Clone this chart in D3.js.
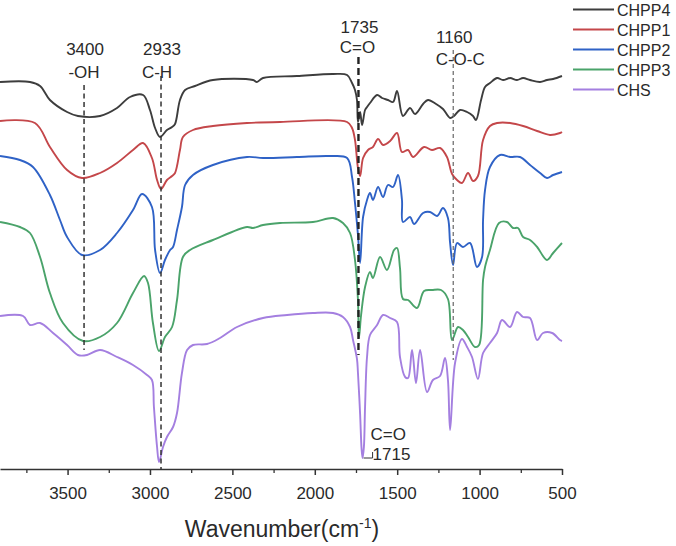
<!DOCTYPE html>
<html>
<head>
<meta charset="utf-8">
<script src="https://cdn.jsdelivr.net/npm/d3@7"></script>
<style>
  body { margin: 0; background: #fff; }
  text { font-family: "Liberation Sans", Arial, sans-serif; }
</style>
</head>
<body>
<div id="chart"></div>
<script>
// FTIR spectra, [wavenumber (cm-1), transmittance (a.u., curves stacked)]
var chpp4 = [[3910,387],[3728,387],[3667,383],[3607,369],[3503,357],[3437,353],[3303,353],[3200,361],[3121,372],[3042,374],[3000,359],[2969,341],[2939,332],[2897,339],[2866,342],[2848,345],[2818,369],[2787,379],[2727,383],[2618,389],[2375,389],[2351,387],[2314,391],[2108,393],[1889,395],[1804,394],[1774,386],[1756,379],[1744,369],[1738,347],[1725,357],[1713,344],[1695,359],[1683,362],[1665,366],[1622,374],[1592,371],[1556,369],[1525,367],[1501,378],[1465,353],[1422,361],[1392,355],[1343,365],[1313,369],[1264,365],[1222,360],[1179,351],[1155,353],[1119,359],[1076,357],[1040,353],[1022,349],[991,369],[967,382],[937,386],[894,391],[858,389],[815,391],[773,389],[736,391],[694,389],[633,387],[591,389],[554,390],[500,393]];
var chpp1 = [[3910,348],[3698,346],[3607,322],[3503,299],[3412,291],[3303,296],[3200,306],[3103,319],[3042,326],[2988,311],[2957,289],[2933,280],[2897,289],[2866,293],[2848,296],[2818,319],[2800,332],[2739,339],[2618,343],[2411,346],[2211,347],[1804,347],[1774,341],[1756,329],[1738,301],[1725,293],[1707,311],[1677,319],[1647,322],[1616,330],[1586,324],[1543,328],[1501,336],[1471,317],[1434,319],[1404,312],[1337,322],[1289,319],[1240,321],[1198,312],[1167,295],[1137,289],[1107,286],[1070,296],[1040,288],[1010,293],[979,329],[937,343],[894,346],[815,346],[736,343],[651,338],[573,334],[512,336],[500,337]];
var chpp2 = [[3910,313],[3789,309],[3710,302],[3607,274],[3546,249],[3503,232],[3412,214],[3303,219],[3200,236],[3103,259],[3048,275],[2988,262],[2969,219],[2939,196],[2909,209],[2878,219],[2860,222],[2836,239],[2806,262],[2787,284],[2739,294],[2618,304],[2411,312],[2314,311],[2108,312],[1908,313],[1804,311],[1774,292],[1756,266],[1738,234],[1725,206],[1707,252],[1683,269],[1665,276],[1647,269],[1616,282],[1586,272],[1556,284],[1525,282],[1495,294],[1471,269],[1465,247],[1422,252],[1398,245],[1343,256],[1301,257],[1258,253],[1222,261],[1192,251],[1179,226],[1161,204],[1137,226],[1101,222],[1058,226],[1016,202],[985,212],[979,249],[967,279],[937,302],[876,314],[815,312],[755,312],[694,304],[633,296],[591,291],[554,294],[500,297]];
var chpp3 = [[3910,247],[3789,242],[3728,236],[3667,212],[3607,176],[3528,146],[3406,128],[3303,132],[3200,146],[3103,176],[3036,193],[3012,186],[2982,146],[2945,118],[2909,132],[2866,142],[2836,169],[2800,212],[2757,219],[2618,229],[2411,242],[2375,241],[2314,244],[2211,246],[2011,247],[1889,251],[1829,246],[1786,236],[1756,209],[1738,169],[1732,131],[1719,154],[1695,182],[1665,197],[1647,191],[1604,212],[1562,199],[1519,219],[1501,221],[1483,201],[1465,170],[1434,169],[1380,161],[1337,178],[1289,179],[1234,179],[1192,170],[1167,129],[1131,142],[1101,139],[1070,132],[1028,122],[1003,124],[979,189],[967,202],[937,219],[882,246],[834,247],[797,241],[767,241],[736,232],[694,229],[651,222],[591,209],[554,216],[500,226]];
var chs = [[3910,153],[3770,153],[3728,144],[3667,146],[3588,136],[3503,124],[3437,114],[3382,114],[3303,119],[3200,112],[3103,104],[3018,94],[2988,89],[2976,62],[2957,22],[2945,7],[2921,22],[2897,32],[2860,42],[2836,56],[2806,96],[2775,119],[2739,124],[2654,125],[2575,131],[2472,142],[2314,151],[2168,154],[2011,156],[1889,156],[1829,152],[1786,142],[1768,129],[1744,110],[1738,96],[1725,55],[1716,20],[1710,11],[1702,22],[1695,62],[1683,112],[1665,134],[1622,144],[1586,154],[1543,151],[1501,147],[1483,112],[1452,92],[1434,91],[1410,119],[1386,86],[1361,119],[1319,77],[1283,89],[1240,93],[1210,111],[1192,89],[1179,39],[1149,106],[1107,130],[1076,122],[1046,112],[1010,90],[979,116],[937,126],[894,136],[864,149],[815,142],[773,157],[736,152],[694,151],[651,129],[615,136],[560,136],[512,129],[500,128]];

var seriesNames = ["CHPP4", "CHPP1", "CHPP2", "CHPP3", "CHS"];
var seriesData = [chpp4, chpp1, chpp2, chpp3, chs];
var seriesColors = ["#3d3d3d", "#c4474a", "#2f62c6", "#4aa36a", "#a47fe0"];

var majorTicks = [3500, 3000, 2500, 2000, 1500, 1000, 500];
var minorTicks = [3750, 3250, 2750, 2250, 1750, 1250, 750];

// marked bands
var peakWn = [3400, 2933, 1735, 1160];
var peakLabel = ["3400", "2933", "1735", "1160"];
var peakGroup = ["-OH", "C-H", "C=O", "C-O-C"];
var peakTop = [384, 393, 412, 419];
var peakBottom = [119, 0, 114, 109];
var chsCO = { wn: 1710, value: 11, label: "1715", group: "C=O" };

// layout / style for the band marks
var peakStyle = [
  { w: 1.5, dash: "5,3.5", color: "#333", y1: 55, y2: 78, dx2: 0 },
  { w: 1.5, dash: "5,3.5", color: "#333", y1: 55, y2: 78, dx2: -4 },
  { w: 2.4, dash: "7,4", color: "#222", y1: 33, y2: 53, dx2: -1 },
  { w: 1.2, dash: "4,3", color: "#666", y1: 43, y2: 65, dx2: 7 }
];

var width = 562, height = 469;

var svg = d3.select("#chart")
  .append("svg")
  .attr("width", 676)
  .attr("height", 546);

var x = d3.scaleLinear().domain([3910, 500]).range([0, width]);
var y = d3.scaleLinear().domain([0, 469]).range([height, 0]);

var line = d3.line()
  .curve(d3.curveCatmullRom.alpha(0.5))
  .x(function (d) { return x(d[0]); })
  .y(function (d) { return y(d[1]); });

svg.selectAll(".spec")
  .data(seriesData)
  .enter()
  .append("path")
  .attr("class", "spec")
  .attr("d", line)
  .attr("fill", "none")
  .attr("stroke", function (d, i) { return seriesColors[i]; })
  .attr("stroke-width", 1.9)
  .attr("stroke-linejoin", "round");

// dashed band lines, drawn over the spectra
peakWn.forEach(function (wn, i) {
  var s = peakStyle[i];
  svg.append("line")
    .attr("x1", x(wn)).attr("x2", x(wn))
    .attr("y1", y(peakTop[i])).attr("y2", y(peakBottom[i]))
    .attr("stroke", s.color)
    .attr("stroke-width", s.w)
    .attr("stroke-dasharray", s.dash);
});

// band labels
peakWn.forEach(function (wn, i) {
  var s = peakStyle[i];
  svg.append("text")
    .attr("x", x(wn) + 1)
    .attr("y", s.y1)
    .attr("text-anchor", "middle")
    .attr("fill", "#2a2a2a")
    .style("font-size", "17px")
    .text(peakLabel[i]);
  svg.append("text")
    .attr("x", x(wn) + s.dx2)
    .attr("y", s.y2)
    .attr("text-anchor", "middle")
    .attr("fill", "#2a2a2a")
    .style("font-size", "17px")
    .text(peakGroup[i]);
});

// CHS carbonyl note
svg.append("path")
  .attr("d", "M" + (x(chsCO.wn) + 1) + "," + y(chsCO.value) +
    "H" + (x(chsCO.wn) + 10) + "V" + (y(chsCO.value) - 6))
  .attr("fill", "none")
  .attr("stroke", "#333")
  .attr("stroke-width", 1);
svg.append("text")
  .attr("x", x(chsCO.wn) + 8)
  .attr("y", 440)
  .attr("fill", "#2a2a2a")
  .style("font-size", "17px")
  .text(chsCO.group);
svg.append("text")
  .attr("x", x(chsCO.wn) + 10)
  .attr("y", 460)
  .attr("fill", "#2a2a2a")
  .style("font-size", "17px")
  .text(chsCO.label);

// x axis
var axis = svg.append("g")
  .attr("transform", "translate(0," + height + ")")
  .call(d3.axisBottom(x).tickValues(majorTicks).tickFormat(d3.format("d"))
    .tickSize(6).tickSizeOuter(0).tickPadding(12));
axis.select(".domain").attr("stroke", "#333").attr("stroke-width", 1.5);
axis.selectAll(".tick line").attr("stroke", "#333").attr("stroke-width", 1.5);
axis.selectAll("text")
  .attr("fill", "#2a2a2a")
  .style("font-size", "17px")
  .style("font-family", "'Liberation Sans', Arial, sans-serif");

var minor = svg.append("g")
  .attr("transform", "translate(0," + height + ")")
  .call(d3.axisBottom(x).tickValues(minorTicks).tickSize(4).tickFormat(""));
minor.select(".domain").remove();
minor.selectAll(".tick line").attr("stroke", "#333").attr("stroke-width", 1.3);

var xTitle = svg.append("text")
  .attr("x", 282)
  .attr("y", 537)
  .attr("text-anchor", "middle")
  .attr("fill", "#2a2a2a")
  .style("font-size", "23px");
xTitle.append("tspan").text("Wavenumber(cm");
xTitle.append("tspan").attr("dy", -9).style("font-size", "14px").text("-1");
xTitle.append("tspan").attr("dy", 9).text(")");

// legend
var legend = svg.selectAll(".legend")
  .data(seriesNames)
  .enter()
  .append("g")
  .attr("class", "legend")
  .attr("transform", function (d, i) { return "translate(573," + (9.5 + i * 20) + ")"; });
legend.append("line")
  .attr("x1", 0).attr("x2", 41)
  .attr("stroke", function (d, i) { return seriesColors[i]; })
  .attr("stroke-width", 1.8);
legend.append("text")
  .attr("x", 44)
  .attr("y", 6)
  .attr("fill", "#2a2a2a")
  .style("font-size", "16px")
  .text(function (d) { return d; });
</script>
</body>
</html>
